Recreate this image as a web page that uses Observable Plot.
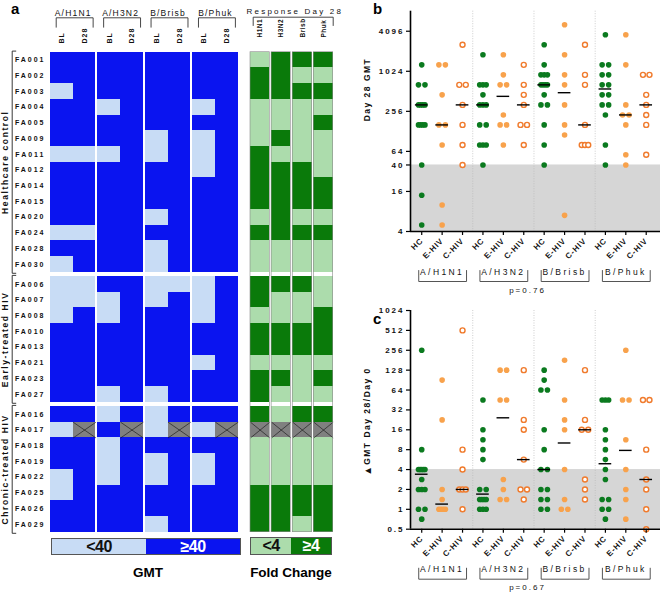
<!DOCTYPE html>
<html><head><meta charset="utf-8">
<script src="https://cdn.jsdelivr.net/npm/d3@7"></script>
<script src="https://cdn.jsdelivr.net/npm/@observablehq/plot@0.6"></script>
<style>
body{margin:0;background:#fff;}
#fig{position:relative;width:660px;height:596px;overflow:hidden;background:#fff;font-family:"Liberation Sans",Arial,sans-serif;}
#fig svg{position:absolute;overflow:visible;}
#fig svg text{font-family:"Liberation Sans",Arial,sans-serif;fill:#111;}
.abs{position:absolute;line-height:1;white-space:nowrap;}
.plabel{font-weight:bold;font-size:15px;}
#fig svg text[aria-label="rowlab"]{font-size:7px;font-weight:bold;letter-spacing:2px;}
#fig svg text[aria-label="cohortlab"]{font-size:8.5px;font-weight:bold;letter-spacing:1.6px;}
#fig svg text[aria-label="collab"]{font-size:7px;font-weight:bold;letter-spacing:1px;}
#fig svg text[aria-label="vacchead"]{font-size:8.5px;letter-spacing:1.2px;}
#fig svg text[aria-label="fchead"]{font-size:8px;letter-spacing:2.2px;}
#fig svg text[aria-label="fcol"]{font-size:6.5px;font-weight:bold;letter-spacing:0.5px;}
#fig svg g[aria-label="y-axis tick label"] text{font-size:8px;font-weight:bold;letter-spacing:2px;}
#fig svg g[aria-label="x-axis tick label"] text{font-size:8px;font-weight:bold;letter-spacing:0.8px;}
#fig svg text[aria-label="ylab"]{font-size:8.5px;font-weight:bold;letter-spacing:1.5px;}
#fig svg text[aria-label="tri"]{font-size:10px;}
#fig svg text[aria-label="vlab"]{font-size:8.5px;letter-spacing:2.4px;}
#fig svg text[aria-label="plab"]{font-size:8px;letter-spacing:2px;}
</style></head><body><div id="fig"></div>
<script>
// ---------------- DATA ----------------
const hcSubjects = ["FA001","FA002","FA003","FA004","FA005","FA009","FA011","FA012","FA014","FA015","FA020","FA024","FA028","FA030"];
const ehivSubjects = ["FA006","FA007","FA008","FA010","FA013","FA021","FA023","FA027"];
const chivSubjects = ["FA016","FA017","FA018","FA019","FA022","FA025","FA026","FA029"];
const cohortNames = ["Healthcare control","Early-treated HIV","Chronic-treated HIV"];
const vaccines = ["A/H1N1","A/H3N2","B/Brisb","B/Phuk"];
const gmtColumns = ["BL","D28"];
const foldColumns = ["H1N1","H3N2","Brisb","Phuk"];
const cohorts = ["HC","E-HIV","C-HIV"];

// GMT heatmap: 1 = <40, 0 = >=40, null = missing
// columns: H1N1 BL, H1N1 D28, H3N2 BL, H3N2 D28, Brisb BL, Brisb D28, Phuk BL, Phuk D28
const gmtBelow40 = [
  [0,0,0,0,0,0,0,0],[0,0,0,0,0,0,0,0],[1,0,0,0,0,0,0,0],[0,0,1,0,0,0,1,0],
  [0,0,0,0,0,0,0,0],[0,0,0,0,1,0,1,0],[1,1,1,0,1,0,1,0],[0,0,0,0,0,0,1,0],
  [0,0,0,0,0,0,0,0],[0,0,0,0,0,0,0,0],[0,0,0,0,1,0,0,0],[1,1,0,0,0,0,0,0],
  [0,0,0,0,1,0,0,0],[1,0,0,0,1,0,0,0],
  [1,1,0,0,1,1,1,0],[1,1,1,0,1,0,1,0],[1,0,1,0,0,0,1,0],[0,0,0,0,0,0,0,0],
  [0,0,0,0,0,0,0,0],[0,0,0,0,0,0,1,0],[0,0,0,0,0,0,0,0],[0,0,1,0,1,0,0,0],
  [0,0,1,0,1,0,0,0],[1,null,0,null,1,null,1,null],[0,0,1,0,0,0,0,0],[0,0,1,0,1,0,1,0],
  [1,0,1,0,1,0,1,0],[1,0,0,0,0,0,0,0],[0,0,0,0,0,0,0,0],[0,0,0,0,1,0,0,0]
];
// Fold change heatmap: 1 = >=4, 0 = <4, null = missing; columns H1N1, H3N2, Brisb, Phuk
const foldAtLeast4 = [
  [1,0,0,0],[0,0,1,1],[0,0,0,0],[1,1,1,1],[1,1,1,0],[1,0,1,1],[0,1,1,1],
  [0,0,0,1],[0,0,0,0],[0,0,0,0],[1,0,1,1],[0,0,0,0],[1,1,1,1],[1,1,1,1],
  [0,0,0,1],[0,1,1,1],[1,1,1,0],[0,0,0,0],[0,0,0,0],[1,1,1,1],[0,0,1,0],[0,1,1,1],
  [0,1,0,0],[null,null,null,null],[1,1,1,1],[1,1,1,1],[1,1,1,1],[0,0,0,0],[0,0,0,0],[0,0,1,0]
];

// Panel b: Day 28 GMT (per vaccine: H1N1, H3N2, Brisb, Phuk)
const d28HC = [
  [1280,640,640,320,320,320,320,160,160,160,160,40,14,5],
  [1810,640,640,640,453,320,320,320,160,160,80,80,80,40],
  [2560,1280,905,905,905,640,640,640,640,453,320,320,160,80,40],
  [3620,1280,1280,905,905,640,640,453,453,320,320,226,80,40]
];
const d28E = [
  [1280,1280,453,160,160,80,10,5],
  [1810,905,640,640,226,160,160,80],
  [5120,1810,905,640,320,160,113,7],
  [3620,1280,320,226,226,160,57,40]
];
const d28C = [
  [2560,640,640,320,160,80,40],
  [1280,640,453,320,160,160,80],
  [2560,905,640,160,80,80,80],
  [905,905,453,320,226,160,57]
];
const medD28HC = [320,320,640,555];
const medD28E = [160,430,488,226];
const medD28C = [320,320,160,320];
const d28Ticks = [4,16,40,64,256,1024,4096];

// Panel c: GMT Day 28 / Day 0
const foldHC = [
  [256,8,4,4,4,4,4,2.83,2,2,2,1,1,0.71],
  [45.3,16,11.3,8,5.66,2,2,1.41,1.41,1.41,1.41,1,1,1],
  [128,90.5,64,64,16,8,4,4,2,2,1.41,1.41,1,1],
  [45.3,45.3,45.3,16,11.3,8,5.66,4,2.83,1.41,1.41,1,1,0.71]
];
const foldE = [
  [90.5,22.6,2,1.41,1,1,1,1],
  [128,128,45.3,45.3,2.83,2,1.41,1.41],
  [181,45.3,22.6,16,4,1.41,1,1],
  [256,45.3,45.3,11.3,4,2,1.41,0.71]
];
const foldC = [
  [512,8,4,2,2,2,1],
  [128,22.6,16,5.66,2,2,1.41],
  [128,22.6,16,16,2.83,2,1.41],
  [45.3,45.3,8,2.83,2,1,0.5]
];
const medFoldHC = [3.4,1.7,4,4.9];
const medFoldE = [1.2,24.3,10.1,7.8];
const medFoldC = [2,5.66,16,2.83];
const foldTicks = [0.5,1,2,4,8,16,32,64,128,256,512,1024];

// ---------------- STYLE ----------------
const BLUE="#0a14f0", LBLUE="#c8dcf5", GREEN="#0a7a0a", LGREEN="#acdcac", MISS="#808080";
const DOT_GREEN="#0b7a1f", DOT_ORANGE="#f8a24c", RING_ORANGE="#f07b2d";
const fig = document.getElementById("fig");
function place(el, left, top){ el.style.left = left+"px"; el.style.top = top+"px"; fig.appendChild(el); }
const tag = name => ({ariaLabel: () => name});

// ---------------- PANEL A: heatmaps ----------------
const GAP_ROW = 0.274, GAP_G = 0.088, GAP_F = 0.093;
const rows = [];
[hcSubjects, ehivSubjects, chivSubjects].forEach((list, gi) =>
  list.forEach(s => rows.push({subject: s, group: gi, y0: rows.length + gi*GAP_ROW})));
const yMax = rows.length + 2*GAP_ROW;
const groupInfo = [0,1,2].map(gi => {
  const rs = rows.filter(r => r.group === gi);
  return {gi, name: cohortNames[gi], top: rs[0].y0, bot: rs[rs.length-1].y0 + 1};
});
const A_H = 596, A_MT = 51.7, A_MB = 64.3;
const PPY = (A_H - A_MT - A_MB) / yMax;

const gmtCells = [];
rows.forEach((r, i) => gmtBelow40[i].forEach((v, c) => {
  const x0 = c + Math.floor(c/2)*GAP_G;
  gmtCells.push({x0, x1: x0+1, y0: r.y0, y1: r.y0+1, v});
}));
const foldCells = [];
rows.forEach((r, i) => foldAtLeast4[i].forEach((v, c) => {
  const x0 = c + c*GAP_F;
  foldCells.push({x0, x1: x0+1, y0: r.y0, y1: r.y0+1, v});
}));

function cellMarks(cells, light, dark){
  const o = {x1:"x0", x2:"x1", y1:"y0", y2:"y1", shapeRendering:"crispEdges"};
  const miss = cells.filter(d => d.v === null);
  return [
    Plot.rect(cells.filter(d => d.v === 1), {...o, fill: light}),
    Plot.rect(cells.filter(d => d.v === 0), {...o, fill: dark}),
    Plot.rect(miss, {...o, fill: MISS}),
    Plot.link(miss, {x1:"x0", y1:"y0", x2:"x1", y2:"y1", stroke:"#111", strokeWidth:0.6}),
    Plot.link(miss, {x1:"x0", y1:"y1", x2:"x1", y2:"y0", stroke:"#111", strokeWidth:0.6})
  ];
}

// GMT heatmap
const gW = 245, gML = 50, gMR = 7.3;
const gXmax = 8 + 3*GAP_G;
const gPPX = (gW - gML - gMR) / gXmax;
const gColLabels = d3.range(8).map(c => ({x: c + Math.floor(c/2)*GAP_G + 0.5, t: gmtColumns[c%2]}));
const gBrackets = vaccines.flatMap((v, i) => {
  const b0 = i*(2+GAP_G), b1 = b0 + 2;
  const xl = b0 + 5.7/gPPX, xr = b1 - 2.8/gPPX, yt = -34.4/PPY, yb = -25/PPY;
  return [[xl,yb],[xl,yt],[xr,yt],[xr,yb]].map(([x,y]) => ({k:i, x, y}));
});
const cohortBrackets = groupInfo.flatMap(g => {
  const xv = -(gML-11.7)/gPPX, xt = -(gML-15.3)/gPPX;
  const t = g.top - 0.07, b = g.bot + 0.07;
  return [[xt,t],[xv,t],[xv,b],[xt,b]].map(([x,y]) => ({k:g.gi, x, y}));
});
const gmtPlot = Plot.plot({
  width: gW, height: A_H, marginLeft: gML, marginRight: gMR, marginTop: A_MT, marginBottom: A_MB,
  x: {domain: [0, gXmax], axis: null},
  y: {domain: [0, yMax], reverse: true, axis: null},
  marks: [
    ...cellMarks(gmtCells, LBLUE, BLUE),
    Plot.text(rows, {x: () => 0, y: d => d.y0 + 0.5, text: "subject", textAnchor: "end", dx: -5, ...tag("rowlab")}),
    Plot.text(groupInfo, {x: () => 0, y: d => (d.top + d.bot)/2, text: "name", rotate: -90, dx: -45, ...tag("cohortlab")}),
    Plot.line(cohortBrackets, {x:"x", y:"y", z:"k", stroke:"#222", strokeWidth:0.9}),
    Plot.text(gColLabels, {x: "x", y: () => 0, text: "t", rotate: -90, textAnchor: "start", dy: -8.7, ...tag("collab")}),
    Plot.text(vaccines, {x: (d,i) => i*(2+GAP_G) + 1, y: () => 0, dy: -38.5, text: d => d, ...tag("vacchead")}),
    Plot.line(gBrackets, {x:"x", y:"y", z:"k", stroke:"#333", strokeWidth:0.9})
  ]
});
place(gmtPlot, 0, 0);

// Fold heatmap
const fW = 110, fML = 5, fMR = 22.3;
const fXmax = 4 + 3*GAP_F;
const fPPX = (fW - fML - fMR) / fXmax;
const fColLabels = d3.range(4).map(c => ({x: c + c*GAP_F + 0.5, t: foldColumns[c]}));
const fxl = 2.7/fPPX, fyt = -35/PPY, fyb = -26.7/PPY;
const fBracket = [[fxl,fyb],[fxl,fyt],[fXmax,fyt],[fXmax,fyb]].map(([x,y]) => ({x, y}));
const foldPlot = Plot.plot({
  width: fW, height: A_H, marginLeft: fML, marginRight: fMR, marginTop: A_MT, marginBottom: A_MB,
  x: {domain: [0, fXmax], axis: null},
  y: {domain: [0, yMax], reverse: true, axis: null},
  marks: [
    ...cellMarks(foldCells, LGREEN, GREEN),
    Plot.rect(d3.range(4), {x1: c => c + c*GAP_F, x2: c => c + c*GAP_F + 1, y1: () => 0, y2: () => yMax, fill: "none", stroke: "#8a8a8a", strokeWidth: 0.6}),
    Plot.text(fColLabels, {x: "x", y: () => 0, text: "t", rotate: -90, textAnchor: "start", dy: -14.7, ...tag("fcol")}),
    Plot.text(["Response Day 28"], {x: () => fXmax/2, y: () => 0, dy: -40.5, dx: 3, text: d => d, ...tag("fchead")}),
    Plot.line(fBracket, {x:"x", y:"y", stroke:"#333", strokeWidth:0.9})
  ]
});
place(foldPlot, 245, 0);

// ---------------- PANELS B & C: scatter ----------------
function dotData(hc, e, c, ppu){
  const out = [];
  [hc, e, c].forEach((arr, k) => arr.forEach((vals, v) => {
    const g = v*3 + k;
    const counts = d3.rollup(vals, a => a.length, d => d);
    const seen = new Map();
    vals.forEach(val => {
      const n = counts.get(val), j = seen.get(val) || 0; seen.set(val, j+1);
      const step = n === 1 ? 0 : (n === 2 ? 6.5 : 6.5/(n-1));
      out.push({g, cohort: k, value: val, x: g + (j - (n-1)/2)*step/ppu});
    });
  }));
  return out;
}
function scatter({hc, e, c, mHC, mE, mC, yDomain, yTicks, band, yLabel, tri, labelStart, pLabel, height, mt, mb}){
  const width = 300, ml = 50, mr = 0, xDomain = [-0.55, 11.7];
  const ppu = (width - ml - mr) / (xDomain[1] - xDomain[0]);
  const logPPU = (height - mt - mb) / Math.log2(yDomain[1]/yDomain[0]);
  const below = px => yDomain[0] * Math.pow(2, -px/logPPU);
  const pts = dotData(hc, e, c, ppu);
  const meds = [];
  [mHC, mE, mC].forEach((arr, k) => arr.forEach((m, v) => meds.push({g: v*3 + k, value: m})));
  const seps = d3.range(1, vaccines.length).map(v => v*3 - 0.5);
  const brackets = vaccines.flatMap((name, v) => {
    const x0 = v*3 - 3/ppu, x1 = v*3 + 2 + 4/ppu;
    return [[x0, below(39)], [x0, below(50)], [x1, below(50)], [x1, below(39)]].map(([x,y]) => ({v, x, y}));
  });
  const labelMarks = tri
    ? [Plot.text([yLabel], {frameAnchor: "left", rotate: -90, dx: -43, dy: labelStart, textAnchor: "start", text: d => d, ...tag("ylab")}),
       Plot.text([tri], {frameAnchor: "left", rotate: -90, dx: -43, dy: labelStart + 11, textAnchor: "start", text: d => d, ...tag("tri")})]
    : [Plot.text([yLabel], {frameAnchor: "left", rotate: -90, dx: -43, text: d => d, ...tag("ylab")})];
  return Plot.plot({
    width, height, marginLeft: ml, marginRight: mr, marginTop: mt, marginBottom: mb,
    x: {domain: xDomain, axis: null},
    y: {type: "log", base: 2, domain: yDomain, axis: null},
    marks: [
      Plot.rect([band], {y1: d => d[0], y2: d => d[1], fill: "#d6d6d6"}),
      Plot.ruleX(seps, {stroke: "#b8b8b8", strokeWidth: 0.7, strokeDasharray: "1,1.5"}),
      Plot.dot(pts.filter(d => d.cohort === 0), {x: "x", y: "value", r: 2.8, fill: DOT_GREEN}),
      Plot.dot(pts.filter(d => d.cohort === 1), {x: "x", y: "value", r: 2.8, fill: DOT_ORANGE}),
      Plot.dot(pts.filter(d => d.cohort === 2), {x: "x", y: "value", r: 2.5, fill: "white", stroke: RING_ORANGE, strokeWidth: 1.4}),
      Plot.ruleY(meds, {y: "value", x1: d => d.g - 0.31, x2: d => d.g + 0.31, stroke: "#000", strokeWidth: 1.4}),
      Plot.ruleX([xDomain[0]], {stroke: "#000", strokeWidth: 1.6}),
      Plot.ruleY([yDomain[0]], {stroke: "#000", strokeWidth: 1.6}),
      Plot.axisY({ticks: yTicks, tickFormat: d => String(d), tickSize: 4, tickPadding: 2, label: null, strokeWidth: 1.2}),
      Plot.axisX({ticks: d3.range(12), tickFormat: i => cohorts[i % 3], tickRotate: -45, tickSize: 4, tickPadding: 4, label: null, strokeWidth: 1.2}),
      ...labelMarks,
      Plot.text(vaccines, {x: (d,i) => i*3 + 1, frameAnchor: "bottom", dy: 43, text: d => d, ...tag("vlab")}),
      Plot.line(brackets, {x: "x", y: "y", z: "v", stroke: "#555", strokeWidth: 1}),
      Plot.text([pLabel], {frameAnchor: "bottom", dy: 61, dx: -8, text: d => d, ...tag("plab")})
    ]
  });
}
const plotB = scatter({hc: d28HC, e: d28E, c: d28C, mHC: medD28HC, mE: medD28E, mC: medD28C,
  yDomain: [4, 8192], yTicks: d28Ticks, band: [4, 40], yLabel: "Day 28 GMT", pLabel: "p=0.76",
  height: 300, mt: 10.7, mb: 69});
place(plotB, 360, 0);
const plotC = scatter({hc: foldHC, e: foldE, c: foldC, mHC: medFoldHC, mE: medFoldE, mC: medFoldC,
  yDomain: [0.5, 1024], yTicks: foldTicks, band: [0.5, 4], yLabel: "GMT Day 28/Day 0", tri: "▲", labelStart: 45,
  pLabel: "p=0.67", height: 300, mt: 14, mb: 67.3});
place(plotC, 360, 296);

// ---------------- labels & legends (HTML) ----------------
function div(html, cls, style){ const d = document.createElement("div"); d.className = "abs " + (cls||""); d.innerHTML = html; Object.assign(d.style, style||{}); return d; }
place(div("a", "plabel"), 11, 1);
place(div("b", "plabel"), 373, 1);
place(div("c", "plabel"), 373, 311);

function legendBar(left, top, w, h, leftTxt, rightTxt, lc, rc){
  const box = div("", "", {width: w+"px", height: h+"px", border: "1px solid #555", display: "flex", boxSizing: "border-box"});
  const mk = (t, bg, col) => div(t, "", {position: "static", flex: "1", background: bg, color: col, fontWeight: "bold", fontSize: "16px", lineHeight: (h-2)+"px", textAlign: "center", letterSpacing: "-0.5px"});
  box.appendChild(mk(leftTxt, lc, "#111"));
  box.appendChild(mk(rightTxt, rc, "#fff"));
  place(box, left, top);
}
legendBar(51, 538, 190, 17, "&lt;40", "≥40", LBLUE, BLUE);
legendBar(250, 537, 82, 18, "&lt;4", "≥4", LGREEN, GREEN);
place(div("GMT", "", {fontWeight: "bold", fontSize: "13.5px", width: "100px", textAlign: "center"}), 98, 566);
place(div("Fold Change", "", {fontWeight: "bold", fontSize: "13.5px", width: "120px", textAlign: "center"}), 231, 566);
</script></body></html>
